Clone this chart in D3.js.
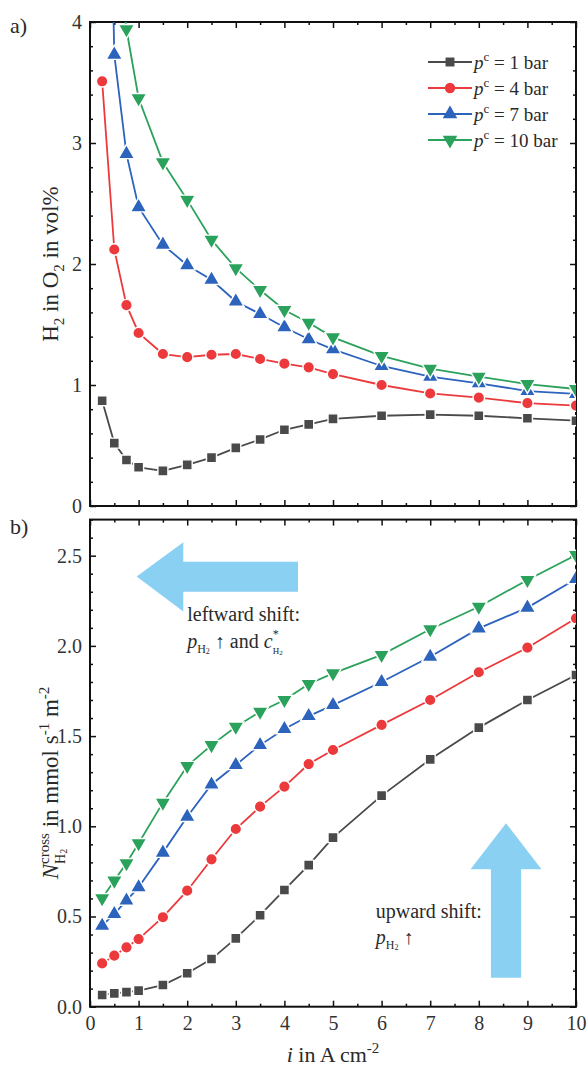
<!DOCTYPE html>
<html>
<head>
<meta charset="utf-8">
<title>H2 crossover</title>
<script src="https://cdn.jsdelivr.net/npm/d3@7"></script>
<style>
  body { margin: 0; background: #fff; }
  text { fill: #2a2a2a; white-space: pre; }
  .axis line { stroke: #111; stroke-width: 1.5px; }
  .axis path { display: none; }
  .axis text { font-size: 20px; fill: #333; }
</style>
</head>
<body>
<script>
// current density in A cm-2
var current = [0.25, 0.5, 0.75, 1, 1.5, 2, 2.5, 3, 3.5, 4, 4.5, 5, 6, 7, 8, 9, 10];
var pressures = ["1", "4", "7", "10"];

// a) H2 in O2 in vol% (values above 4 are cut off in the figure, estimated)
var h2o2_1bar  = [0.87, 0.52, 0.38, 0.32, 0.29, 0.34, 0.40, 0.48, 0.55, 0.63, 0.675, 0.72, 0.746, 0.755, 0.746, 0.725, 0.705];
var h2o2_4bar  = [3.51, 2.12, 1.66, 1.43, 1.256, 1.23, 1.25, 1.256, 1.215, 1.176, 1.146, 1.09, 1.0, 0.93, 0.895, 0.85, 0.83];
var h2o2_7bar  = [8.5, 3.73, 2.91, 2.47, 2.16, 1.99, 1.87, 1.69, 1.587, 1.477, 1.378, 1.295, 1.157, 1.069, 1.014, 0.95, 0.926];
var h2o2_10bar = [9.0, 5.0, 3.94, 3.37, 2.84, 2.53, 2.20, 1.965, 1.785, 1.62, 1.515, 1.394, 1.24, 1.135, 1.069, 1.008, 0.967];

// b) N_H2 cross in mmol s-1 m-2
var flux_1bar  = [0.065, 0.074, 0.081, 0.089, 0.12, 0.185, 0.264, 0.379, 0.507, 0.647, 0.785, 0.937, 1.17, 1.371, 1.547, 1.70, 1.839];
var flux_4bar  = [0.24, 0.283, 0.329, 0.375, 0.496, 0.643, 0.817, 0.985, 1.109, 1.22, 1.345, 1.423, 1.562, 1.70, 1.854, 1.99, 2.153];
var flux_7bar  = [0.449, 0.514, 0.588, 0.662, 0.854, 1.053, 1.232, 1.34, 1.45, 1.539, 1.611, 1.672, 1.80, 1.94, 2.097, 2.212, 2.371];
var flux_10bar = [0.601, 0.699, 0.795, 0.906, 1.131, 1.334, 1.45, 1.552, 1.635, 1.70, 1.789, 1.848, 1.95, 2.092, 2.217, 2.365, 2.504];

var xTicks = [0, 1, 2, 3, 4, 5, 6, 7, 8, 9, 10];
var yTicksA = [0, 1, 2, 3, 4];
var yTicksB = [0, 0.5, 1.0, 1.5, 2.0, 2.5];

var colors = ["#4a4a4a", "#ec3a3c", "#2c63bd", "#2ba25b"];
var symbols = [d3.symbolSquare, d3.symbolCircle, d3.symbolTriangle, d3.symbolTriangle];
var symSizes = [100, 105, 115, 115];
var flip = [false, false, false, true];

// pick a serif face that is really installed
function hasFont(name) {
    var c = document.createElement("canvas").getContext("2d");
    var s = "mmmmmmmmmwwwwwlli1234567890";
    return ["monospace", "sans-serif"].some(function (b) {
        c.font = "40px " + b;
        var w0 = c.measureText(s).width;
        c.font = "40px '" + name + "', " + b;
        return c.measureText(s).width !== w0;
    });
}
var serifs = ["Liberation Serif", "Times New Roman", "Tinos", "DejaVu Serif", "Noto Serif", "FreeSerif", "Nimbus Roman", "Nimbus Roman No9 L"];
var face = serifs.filter(hasFont)[0];
var fontStack = (face ? "'" + face + "', " : "") + "serif";
d3.select("head").append("style").text("text { font-family: " + fontStack + "; }");

var W = 587, H = 1068;
var svg = d3.select("body").append("svg").attr("width", W).attr("height", H);

var x = d3.scaleLinear().domain([0, 10]).range([90, 576]);
var yA = d3.scaleLinear().domain([0, 4]).range([506, 22]);
var yB = d3.scaleLinear().domain([0, 2.7]).range([1006.7, 519.6]);

function frame(y, majors, minorStep, fmt, showX) {
    var top = y.range()[1], bot = y.range()[0], left = x.range()[0], right = x.range()[1];
    var minorX = d3.range(0.5, 10, 1);
    var d0 = y.domain()[0], d1 = y.domain()[1];
    var minorY = d3.range(d0, d1 + 1e-9, minorStep).filter(function (v) {
        return !majors.some(function (m) { return Math.abs(m - v) < 1e-6; });
    });

    svg.append("g").attr("class", "axis").attr("transform", "translate(0," + bot + ")")
        .call(d3.axisBottom(x).tickValues(xTicks).tickSize(-6).tickSizeOuter(0).tickPadding(9)
            .tickFormat(showX ? d3.format("d") : ""));
    svg.append("g").attr("class", "axis").attr("transform", "translate(0," + bot + ")")
        .call(d3.axisBottom(x).tickValues(minorX).tickSize(-3).tickSizeOuter(0).tickFormat(""));
    svg.append("g").attr("class", "axis").attr("transform", "translate(0," + top + ")")
        .call(d3.axisTop(x).tickValues(xTicks).tickSize(-6).tickSizeOuter(0).tickFormat(""));
    svg.append("g").attr("class", "axis").attr("transform", "translate(0," + top + ")")
        .call(d3.axisTop(x).tickValues(minorX).tickSize(-3).tickSizeOuter(0).tickFormat(""));

    svg.append("g").attr("class", "axis").attr("transform", "translate(" + left + ",0)")
        .call(d3.axisLeft(y).tickValues(majors).tickSize(-6).tickSizeOuter(0).tickPadding(8).tickFormat(fmt));
    svg.append("g").attr("class", "axis").attr("transform", "translate(" + left + ",0)")
        .call(d3.axisLeft(y).tickValues(minorY).tickSize(-3).tickSizeOuter(0).tickFormat(""));
    svg.append("g").attr("class", "axis").attr("transform", "translate(" + right + ",0)")
        .call(d3.axisRight(y).tickValues(majors).tickSize(-6).tickSizeOuter(0).tickFormat(""));
    svg.append("g").attr("class", "axis").attr("transform", "translate(" + right + ",0)")
        .call(d3.axisRight(y).tickValues(minorY).tickSize(-3).tickSizeOuter(0).tickFormat(""));

    svg.append("rect").attr("x", left).attr("y", top)
        .attr("width", right - left).attr("height", bot - top)
        .attr("fill", "none").attr("stroke", "#111").attr("stroke-width", 2);
}

function series(y, all, clipId) {
    var g = svg.append("g").attr("clip-path", "url(#" + clipId + ")");
    all.forEach(function (vals, k) {
        var pts = current.map(function (c, i) { return [c, vals[i]]; });
        g.append("path").datum(pts)
            .attr("fill", "none").attr("stroke", colors[k]).attr("stroke-width", 1.8)
            .attr("d", d3.line().x(function (d) { return x(d[0]); }).y(function (d) { return y(d[1]); }));
        g.selectAll(null).data(pts).enter().append("path")
            .attr("d", d3.symbol().type(symbols[k]).size(symSizes[k]))
            .attr("transform", function (d) {
                return "translate(" + x(d[0]) + "," + y(d[1]) + ")" + (flip[k] ? " rotate(180)" : "");
            })
            .attr("fill", colors[k]).attr("stroke", "#fff").attr("stroke-width", 1.4);
    });
}

function clip(id, y) {
    svg.append("clipPath").attr("id", id).append("rect")
        .attr("x", x.range()[0]).attr("y", y.range()[1])
        .attr("width", x.range()[1] - x.range()[0]).attr("height", y.range()[0] - y.range()[1]);
}

// rich text: pieces placed one after another, "mark"/"back" lets two scripts stack
function rich(parent, parts, base) {
    var g = parent.append("g");
    var cx = 0, saved = 0, maxX = 0;
    parts.forEach(function (p) {
        var start = p.back ? saved : (p.after ? maxX : cx);
        if (p.mark) saved = start;
        var t = g.append("text").attr("x", start).attr("y", p.dy || 0)
            .attr("xml:space", "preserve")
            .style("font-size", (p.s || base) + "px")
            .style("font-style", p.i ? "italic" : "normal")
            .text(p.t);
        var w = t.node().getComputedTextLength();
        cx = start + w;
        maxX = Math.max(maxX, cx);
    });
    return { g: g, width: maxX };
}

clip("clipA", yA);
clip("clipB", yB);

frame(yA, yTicksA, 0.2, d3.format("d"), false);
frame(yB, yTicksB, 0.1, d3.format(".1f"), true);

series(yA, [h2o2_1bar, h2o2_4bar, h2o2_7bar, h2o2_10bar], "clipA");

// annotation arrows in panel b (data units)
var arrowColor = "#8ad0f2";
var leftArrow = [[0.96, 2.384], [1.92, 2.574], [1.92, 2.467], [4.28, 2.467], [4.28, 2.30], [1.92, 2.30], [1.92, 2.19]];
var upArrow = [[8.56, 1.017], [9.29, 0.762], [8.87, 0.762], [8.87, 0.16], [8.25, 0.16], [8.25, 0.762], [7.83, 0.762]];
[leftArrow, upArrow].forEach(function (poly) {
    svg.append("path")
        .attr("d", d3.line().x(function (d) { return x(d[0]); }).y(function (d) { return yB(d[1]); })(poly) + "Z")
        .attr("fill", arrowColor);
});

series(yB, [flux_1bar, flux_4bar, flux_7bar, flux_10bar], "clipB");

// legend
var leg = svg.append("g");
pressures.forEach(function (p, k) {
    var ly = 62 + k * 26;
    leg.append("line").attr("x1", 428).attr("x2", 472).attr("y1", ly).attr("y2", ly)
        .attr("stroke", colors[k]).attr("stroke-width", 1.8);
    leg.append("path").attr("d", d3.symbol().type(symbols[k]).size(symSizes[k] * 0.8))
        .attr("transform", "translate(450," + ly + ")" + (flip[k] ? " rotate(180)" : ""))
        .attr("fill", colors[k]);
    var r = rich(leg, [
        { t: "p", i: true },
        { t: "c", s: 13, dy: -8 },
        { t: " = " + p + " bar" }
    ], 19);
    r.g.attr("transform", "translate(474," + (ly + 7) + ")");
});

// panel letters
svg.append("text").attr("x", 10).attr("y", 33).style("font-size", "22px").text("a)");
svg.append("text").attr("x", 10).attr("y", 534).style("font-size", "22px").text("b)");

// y titles
var tA = rich(svg, [
    { t: "H" }, { t: "2", s: 15, dy: 6 }, { t: " in O" }, { t: "2", s: 15, dy: 6 }, { t: " in vol%" }
], 23);
tA.g.attr("transform", "translate(58," + yA(2.0) + ") rotate(-90) translate(" + (-tA.width / 2) + ",0)");

var tB = rich(svg, [
    { t: "N", i: true },
    { t: "cross", s: 15, dy: -9, mark: true },
    { t: "H", s: 14, dy: 7, back: true }, { t: "2", s: 10, dy: 9 },
    { t: " in mmol s", after: true }, { t: "-1", s: 15, dy: -9 }, { t: " m" }, { t: "-2", s: 15, dy: -9 }
], 23);
tB.g.attr("transform", "translate(58," + yB(1.24) + ") rotate(-90) translate(" + (-tB.width / 2) + ",0)");

// x title
var tX = rich(svg, [
    { t: "i", i: true }, { t: " in A cm" }, { t: "-2", s: 15, dy: -9 }
], 22);
tX.g.attr("transform", "translate(" + (x(5) - tX.width / 2) + ",1062)");

// annotation texts
var a1 = rich(svg, [{ t: "leftward shift:" }], 20);
a1.g.attr("transform", "translate(" + x(2.0) + "," + yB(2.14) + ")");
var a2 = rich(svg, [
    { t: "p", i: true }, { t: "H", s: 12, dy: 5 }, { t: "2", s: 8, dy: 6 },
    { t: " \u2191 and " }, { t: "c", i: true },
    { t: "*", s: 12, dy: -10, mark: true },
    { t: "H", s: 9, dy: 6, back: true }, { t: "2", s: 7, dy: 7 }
], 20);
a2.g.attr("transform", "translate(" + x(2.0) + "," + yB(1.99) + ")");
var a3 = rich(svg, [{ t: "upward shift:" }], 20);
a3.g.attr("transform", "translate(" + x(5.88) + "," + yB(0.49) + ")");
var a4 = rich(svg, [
    { t: "p", i: true }, { t: "H", s: 12, dy: 5 }, { t: "2", s: 8, dy: 6 }, { t: " \u2191" }
], 20);
a4.g.attr("transform", "translate(" + x(5.88) + "," + yB(0.35) + ")");
</script>
</body>
</html>
